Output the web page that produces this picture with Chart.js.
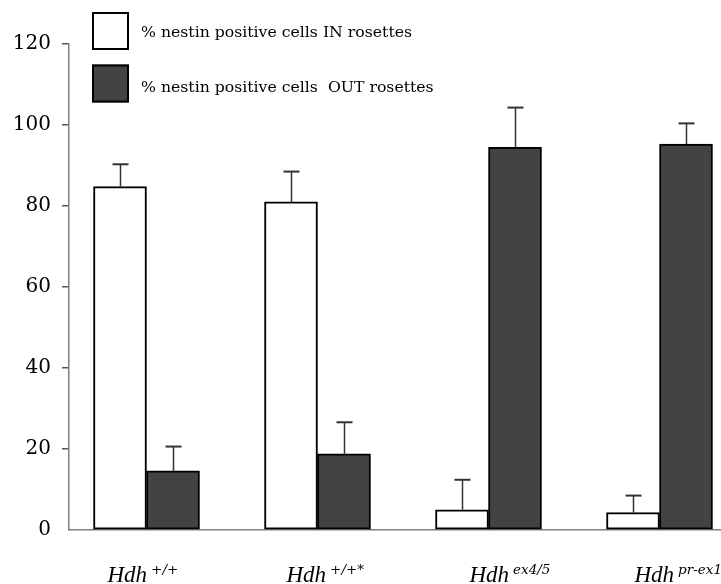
<!DOCTYPE html>
<html>
<head>
<meta charset="utf-8">
<script src="https://cdn.jsdelivr.net/npm/chart.js@4.4.0/dist/chart.umd.min.js"></script>
<style>
  html, body { margin: 0; padding: 0; background: #ffffff; }
  #wrap { width: 721px; height: 584px; }
</style>
</head>
<body>
<div id="wrap"><canvas id="chart" width="721" height="584"></canvas></div>
<script>
// Genotypes on the x axis: gene name plus superscript allele
const genes = ['Hdh', 'Hdh', 'Hdh', 'Hdh'];
const alleles = ['+/+', '+/+*', 'ex4/5', 'pr-ex1'];

// Percent of nestin-positive cells (mean and upper error)
const inRosettes = [84.8, 81.0, 5.0, 4.3];
const inRosettesErr = [5.5, 7.5, 7.4, 4.2];
const outRosettes = [14.6, 18.8, 94.5, 95.3];
const outRosettesErr = [6.0, 7.8, 9.8, 5.1];

const seriesNames = ['% nestin positive cells IN rosettes', '% nestin positive cells  OUT rosettes'];
const yTicks = [0, 20, 40, 60, 80, 100, 120];

// Layout of the hand-placed annotations
const labelShift = [-39, -31, -19, -25];
const AXIS_GREY = '#808080';
const DARK_FILL = '#434343';

const toPoints = vals => vals.map((v, i) => ({ x: i, y: v }));

// Upward-only error whiskers with a cap
const errorBars = {
  id: 'errorBars',
  afterDatasetsDraw(chart) {
    const { ctx } = chart;
    const y = chart.scales.y;
    chart.data.datasets.forEach((ds, di) => {
      const meta = chart.getDatasetMeta(di);
      meta.data.forEach((bar, i) => {
        const top = y.getPixelForValue(ds.data[i].y + ds.errors[i]);
        const cx = Math.round(bar.x) + 0.5;
        ctx.save();
        ctx.strokeStyle = '#333333';
        ctx.lineWidth = 1.5;
        ctx.beginPath();
        ctx.moveTo(cx, bar.y);
        ctx.lineTo(cx, top);
        ctx.stroke();
        ctx.lineWidth = 2;
        ctx.beginPath();
        ctx.moveTo(cx - 8, top);
        ctx.lineTo(cx + 8, top);
        ctx.stroke();
        ctx.restore();
      });
    });
  }
};

// Legend: two stacked swatches at the top left
const boxLegend = {
  id: 'boxLegend',
  afterDraw(chart) {
    const { ctx } = chart;
    const boxX = 92, boxW = 37, boxH = 38;
    const boxY = [12, 64.5];
    const textY = [37, 92];
    chart.data.datasets.forEach((ds, i) => {
      ctx.save();
      ctx.fillStyle = ds.backgroundColor;
      ctx.fillRect(boxX, boxY[i], boxW, boxH);
      ctx.strokeStyle = '#000000';
      ctx.lineWidth = 2;
      ctx.strokeRect(boxX + 1, boxY[i] + 1, boxW - 2, boxH - 2);
      ctx.fillStyle = '#000000';
      ctx.font = '15.7px "DejaVu Serif", serif';
      ctx.textBaseline = 'alphabetic';
      ctx.textAlign = 'left';
      ctx.fillText(ds.label, 141, textY[i]);
      ctx.restore();
    });
  }
};

// Category labels: italic gene name with superscript allele
const genotypeLabels = {
  id: 'genotypeLabels',
  afterDraw(chart) {
    const { ctx } = chart;
    const x = chart.scales.x;
    genes.forEach((g, i) => {
      const left = x.getPixelForValue(i) + labelShift[i];
      ctx.save();
      ctx.fillStyle = '#000000';
      ctx.textAlign = 'left';
      ctx.textBaseline = 'alphabetic';
      ctx.font = 'italic 23px "Liberation Serif", serif';
      ctx.fillText(g, left, 581.5);
      const w = ctx.measureText(g).width;
      ctx.font = 'italic 13.5px "DejaVu Serif", serif';
      ctx.fillText(alleles[i], left + w + 4, 574);
      ctx.restore();
    });
  }
};

new Chart(document.getElementById('chart'), {
  type: 'bar',
  data: {
    datasets: [
      {
        label: seriesNames[0],
        data: toPoints(inRosettes),
        errors: inRosettesErr,
        backgroundColor: '#ffffff',
        borderColor: '#000000',
        borderWidth: 2,
        borderSkipped: false,
        barThickness: 53
      },
      {
        label: seriesNames[1],
        data: toPoints(outRosettes),
        errors: outRosettesErr,
        backgroundColor: DARK_FILL,
        borderColor: '#000000',
        borderWidth: 2,
        borderSkipped: false,
        barThickness: 53
      }
    ]
  },
  options: {
    responsive: false,
    animation: false,
    devicePixelRatio: 1,
    layout: { padding: { top: 44, left: 0, right: 0, bottom: 0 } },
    plugins: { legend: { display: false }, tooltip: { enabled: false } },
    scales: {
      x: {
        type: 'linear',
        min: -0.4532,
        max: 3.3596,
        offset: false,
        grid: { display: false },
        border: { display: true, color: AXIS_GREY, width: 1.5 },
        ticks: { display: false, stepSize: 1, includeBounds: false },
        afterFit(s) { s.height = 54; }
      },
      y: {
        min: 0,
        max: 120,
        afterBuildTicks(s) { s.ticks = yTicks.map(v => ({ value: v })); },
        grid: {
          drawOnChartArea: false,
          drawTicks: true,
          tickLength: 7,
          lineWidth: 1.5,
          tickColor: c => (c.tick && c.tick.value === 0 ? 'rgba(0,0,0,0)' : '#555555')
        },
        border: { display: true, color: AXIS_GREY, width: 1.5 },
        ticks: {
          color: '#000000',
          padding: 11,
          font: { family: 'DejaVu Serif', size: 20 }
        },
        afterFit(s) { s.width = 69; }
      }
    }
  },
  plugins: [errorBars, boxLegend, genotypeLabels]
});
</script>
</body>
</html>
